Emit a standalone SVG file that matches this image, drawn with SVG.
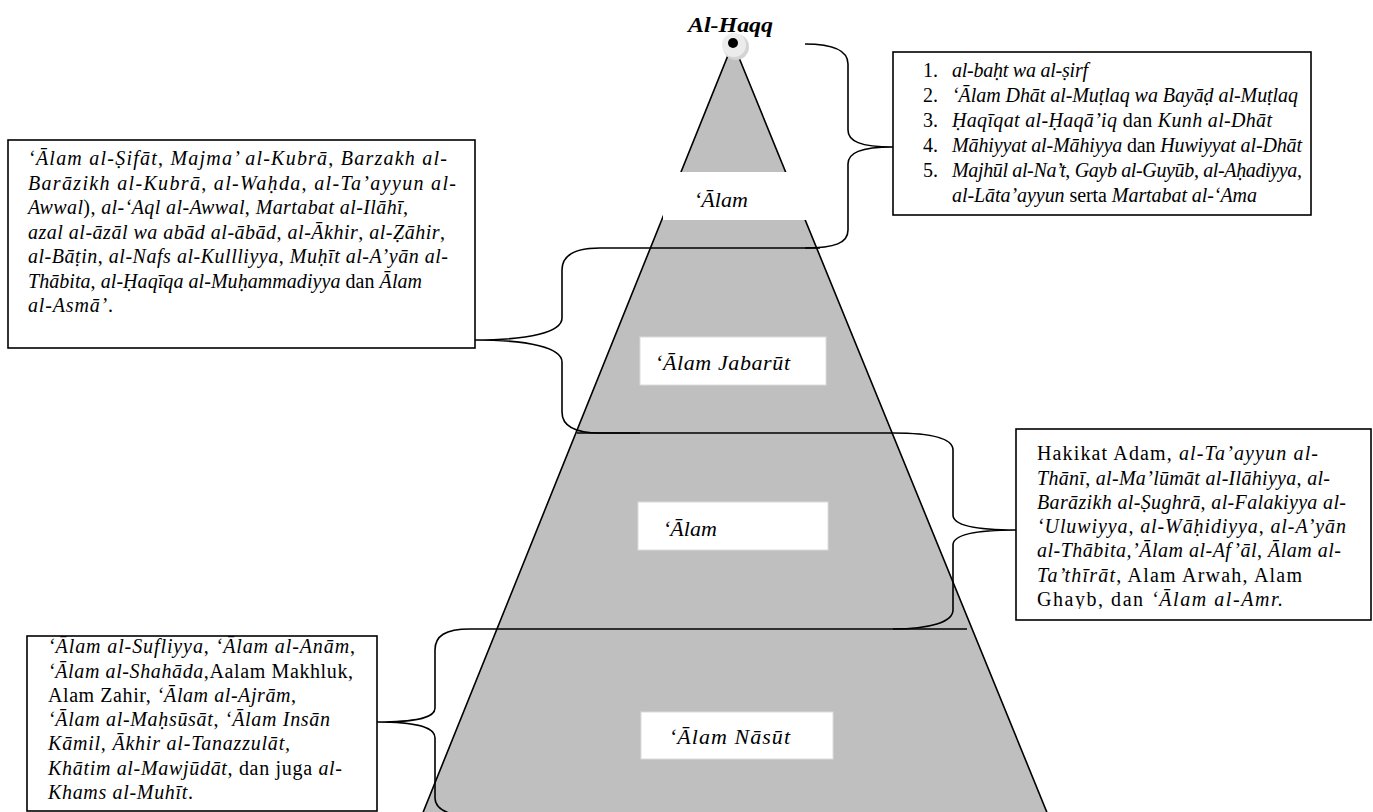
<svg xmlns="http://www.w3.org/2000/svg" width="1373" height="812" viewBox="0 0 1373 812">
<style>
.bg{fill:#fff}
.box{fill:#fff;stroke:#000;stroke-width:1.6}
.lbl{fill:#fff;stroke:#dcdcdc;stroke-width:1}
.t{font-family:"Liberation Serif","Times New Roman","DejaVu Serif",serif;font-size:20px;fill:#000}
.m{font-family:"Liberation Serif","Times New Roman","DejaVu Serif",serif;font-size:22px;font-style:italic;fill:#000}
.i{font-style:italic}
.br{fill:none;stroke:#000;stroke-width:1.6}
</style>
<defs>
<clipPath id="clipR"><rect x="1016" y="429" width="356" height="180"/></clipPath>
</defs>
<rect class="bg" x="0" y="0" width="1373" height="812"/>

<g id="pyramid">
<polygon points="733,43 1048,815 422,815" fill="#bfbfbf" stroke="#000" stroke-width="1.6"/>
<circle cx="736" cy="47" r="13" fill="#d4d4d4"/>
<circle cx="734" cy="45" r="12" fill="#ececec"/>
<circle cx="733" cy="43" r="5" fill="#000"/>
<text class="m" x="688" y="32" font-size="24" font-weight="bold" textLength="85" lengthAdjust="spacingAndGlyphs">Al-Haqq</text>
</g>

<g id="label-alam-top">
<rect x="663" y="172" width="145" height="48" fill="#fff"/>
<text class="m" x="694" y="207">‘Ālam</text>
</g>

<g id="label-jabarut">
<rect class="lbl" x="640" y="337" width="186" height="48"/>
<text class="m" x="655" y="370" textLength="135" lengthAdjust="spacing">‘Ālam Jabarūt</text>
</g>

<g id="label-alam-mid">
<rect class="lbl" x="638" y="502" width="190" height="48"/>
<text class="m" x="663" y="536">‘Ālam</text>
</g>

<g id="label-nasut">
<rect class="lbl" x="641" y="712" width="192" height="47"/>
<text class="m" x="669" y="744" textLength="121" lengthAdjust="spacing">‘Ālam Nāsūt</text>
</g>

<g id="connectors">
<path class="br" d="M805 44 C833 44 848 50 848 64 L848 130 C848 141 860 147 893 147 M893 147 C860 147 848 153 848 164 L848 230 C848 243 835 248 805 248"/>
<path class="br" d="M820 248 L600 248 C575 248 562 255 562 270 L562 318 C562 332 530 340 475 340 M475 340 C530 340 562 348 562 362 L562 412 C562 426 575 433 600 433 L640 433"/>
<path class="br" d="M577 433 L893 433 C930 433 953 438 953 450 L953 515 C953 525 975 530 1016 530 M1016 530 C975 530 953 535 953 545 L953 610 C953 622 930 629 893 629"/>
<path class="br" d="M967 629 L470 629 C445 629 435 636 435 650 L435 708 C435 717 420 722 377 722 M377 722 C420 722 435 728 435 738 L435 798 C435 807 442 812 456 815"/>
</g>

<g id="box-top-right">
<rect class="box" x="893" y="52" width="418" height="163"/>
<text class="t" x="923" y="77">1.</text>
<text class="t i" x="952" y="77" textLength="136" lengthAdjust="spacing">al-baḥt wa al-ṣirf</text>
<text class="t" x="923" y="102">2.</text>
<text class="t i" x="952" y="102" textLength="346" lengthAdjust="spacing">‘Ālam Dhāt al-Muṭlaq wa Bayāḍ al-Muṭlaq</text>
<text class="t" x="923" y="127">3.</text>
<text class="t" x="952" y="127" textLength="320" lengthAdjust="spacing"><tspan class="i">Ḥaqīqat al-Ḥaqā’iq</tspan> dan <tspan class="i">Kunh al-Dhāt</tspan></text>
<text class="t" x="923" y="152">4.</text>
<text class="t" x="952" y="152" textLength="350" lengthAdjust="spacing"><tspan class="i">Māhiyyat al-Māhiyya</tspan> dan <tspan class="i">Huwiyyat al-Dhāt</tspan></text>
<text class="t" x="923" y="177">5.</text>
<text class="t" x="952" y="177" textLength="350" lengthAdjust="spacing"><tspan class="i">Majhūl al-Na’t</tspan>, <tspan class="i">Gayb al-Guyūb</tspan>, <tspan class="i">al-Aḥadiyya,</tspan></text>
<text class="t" x="952" y="202" textLength="305" lengthAdjust="spacing"><tspan class="i">al-Lāta’ayyun</tspan> serta <tspan class="i">Martabat al-‘Ama</tspan></text>
</g>

<g id="box-top-left">
<rect class="box" x="8" y="140" width="467" height="208"/>
<text class="t" x="28" y="165" textLength="419" lengthAdjust="spacing"><tspan class="i">‘Ālam al-Ṣifāt</tspan>, <tspan class="i">Majma’ al-Kubrā</tspan>, <tspan class="i">Barzakh al-</tspan></text>
<text class="t" x="28" y="189.5" textLength="428" lengthAdjust="spacing"><tspan class="i">Barāzikh al-Kubrā</tspan>, <tspan class="i">al-Waḥda</tspan>, <tspan class="i">al-Ta’ayyun al-</tspan></text>
<text class="t" x="28" y="214" textLength="380" lengthAdjust="spacing"><tspan class="i">Awwal</tspan>), <tspan class="i">al-‘Aql al-Awwal</tspan>, <tspan class="i">Martabat al-Ilāhī</tspan>,</text>
<text class="t" x="28" y="238.5" textLength="417" lengthAdjust="spacing"><tspan class="i">azal al-āzāl wa abād al-ābād</tspan>, <tspan class="i">al-Ākhir</tspan>, <tspan class="i">al-Ẓāhir</tspan>,</text>
<text class="t" x="28" y="263" textLength="420" lengthAdjust="spacing"><tspan class="i">al-Bāṭin</tspan>, <tspan class="i">al-Nafs al-Kullliyya</tspan>, <tspan class="i">Muḥīt al-A’yān al-</tspan></text>
<text class="t" x="28" y="287.5" textLength="394" lengthAdjust="spacing"><tspan class="i">Thābita</tspan>, <tspan class="i">al-Ḥaqīqa al-Muḥammadiyya</tspan> dan <tspan class="i">Ālam</tspan></text>
<text class="t" x="28" y="312" textLength="85" lengthAdjust="spacing"><tspan class="i">al-Asmā’</tspan>.</text>
</g>

<g id="box-mid-right">
<rect class="box" x="1016" y="429" width="355" height="191"/>
<g clip-path="url(#clipR)">
<text class="t" x="1037" y="460" textLength="281" lengthAdjust="spacing">Hakikat Adam, <tspan class="i">al-Ta’ayyun al-</tspan></text>
<text class="t" x="1037" y="484.5" textLength="293" lengthAdjust="spacing"><tspan class="i">Thānī</tspan>, <tspan class="i">al-Ma’lūmāt al-Ilāhiyya</tspan>, <tspan class="i">al-</tspan></text>
<text class="t" x="1037" y="509" textLength="309" lengthAdjust="spacing"><tspan class="i">Barāzikh al-Ṣughrā</tspan>, <tspan class="i">al-Falakiyya al-</tspan></text>
<text class="t" x="1037" y="533" textLength="309" lengthAdjust="spacing"><tspan class="i">‘Uluwiyya</tspan>, <tspan class="i">al-Wāḥidiyya</tspan>, <tspan class="i">al-A’yān</tspan></text>
<text class="t" x="1037" y="557" textLength="304" lengthAdjust="spacing"><tspan class="i">al-Thābita,’Ālam al-Af’āl</tspan>, <tspan class="i">Ālam al-</tspan></text>
<text class="t" x="1037" y="581.5" textLength="265" lengthAdjust="spacing"><tspan class="i">Ta’thīrāt</tspan>, Alam Arwah, Alam</text>
<text class="t" x="1037" y="606" textLength="246" lengthAdjust="spacing">Ghayb, dan  <tspan class="i">‘Ālam al-Amr.</tspan></text>
</g>
</g>

<g id="box-bottom-left">
<rect class="box" x="27" y="636" width="350" height="175"/>
<text class="t" x="48" y="653" textLength="307" lengthAdjust="spacing"><tspan class="i">‘Ālam al-Sufliyya</tspan>, <tspan class="i">‘Ālam al-Anām</tspan>,</text>
<text class="t" x="48" y="678" textLength="305" lengthAdjust="spacing"><tspan class="i">‘Ālam al-Shahāda</tspan>,Aalam Makhluk,</text>
<text class="t" x="48" y="702" textLength="248" lengthAdjust="spacing">Alam Zahir, <tspan class="i">‘Ālam al-Ajrām</tspan>,</text>
<text class="t" x="48" y="726" textLength="282" lengthAdjust="spacing"><tspan class="i">‘Ālam al-Maḥsūsāt</tspan>, <tspan class="i">‘Ālam Insān</tspan></text>
<text class="t i" x="48" y="750" textLength="242" lengthAdjust="spacing">Kāmil, Ākhir al-Tanazzulāt,</text>
<text class="t" x="48" y="775" textLength="294" lengthAdjust="spacing"><tspan class="i">Khātim al-Mawjūdāt</tspan>, dan juga <tspan class="i">al-</tspan></text>
<text class="t" x="48" y="799" textLength="145" lengthAdjust="spacing"><tspan class="i">Khams al-Muhīt</tspan>.</text>
</g>
</svg>
